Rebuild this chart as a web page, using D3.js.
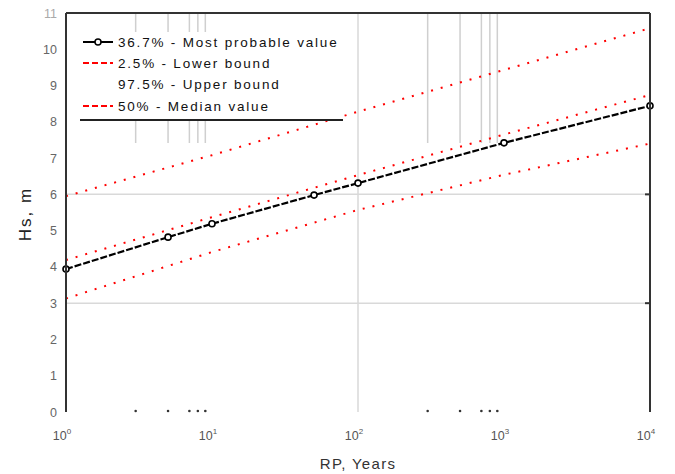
<!DOCTYPE html>
<html><head><meta charset="utf-8">
<script src="https://cdn.jsdelivr.net/npm/d3@7"></script>
<style>
body{margin:0;background:#fff;}
text{font-family:"Liberation Sans",Arial,sans-serif;}
</style></head>
<body>
<svg id="chart" width="675" height="474"></svg>
<script>
// ---- data ----
const rpMode = [1, 5, 10, 50, 100, 1000, 10000];
const hsMode = [3.94, 4.82, 5.19, 5.98, 6.31, 7.42, 8.44];
const rpBounds = [1, 10, 100, 1000, 10000];
const hsLower = [3.13, 4.41, 5.57, 6.54, 7.40];
const hsUpper = [5.95, 7.08, 8.28, 9.43, 10.58];
const hsMedian = [4.19, 5.37, 6.53, 7.65, 8.74];
const yTicks = [0,1,2,3,4,5,6,7,8,9,10,11];
const xTicks = [1, 10, 100, 1000, 10000];
const minorMults = [3, 5, 7, 8, 9];
const minorDecades = [1, 100];
const yGrid = [3, 6];
const xGrid = [100];
const legendLabels = ["36.7% - Most probable value", "2.5% - Lower bound", "97.5% - Upper bound", "50% - Median value"];

const svg = d3.select("#chart");
const x = d3.scaleLog().domain([1, 10000]).range([66, 650]);
const y = d3.scaleLinear().domain([0, 11]).range([412, 13]);

// grid
svg.selectAll(".yg").data(yGrid).enter().append("line")
  .attr("x1", x(1)).attr("x2", x(10000)).attr("y1", d => y(d)).attr("y2", d => y(d))
  .attr("stroke", "#d9d9d9").attr("stroke-width", 1.5);
svg.selectAll(".xg").data(xGrid).enter().append("line")
  .attr("x1", d => x(d)).attr("x2", d => x(d)).attr("y1", y(0)).attr("y2", y(11))
  .attr("stroke", "#d9d9d9").attr("stroke-width", 1.5);

// minor marks
const minors = [];
minorDecades.forEach(dec => minorMults.forEach(m => minors.push(dec * m)));
svg.selectAll(".mt").data(minors).enter().append("line")
  .attr("x1", d => x(d)).attr("x2", d => x(d)).attr("y1", y(11)).attr("y2", 143)
  .attr("stroke", "#cfcfcf").attr("stroke-width", 1.5);
svg.selectAll(".md").data(minors).enter().append("circle")
  .attr("cx", d => x(d)).attr("cy", 411).attr("r", 1.3).attr("fill", "#333");

// red bound lines
const line = d3.line().x(d => x(d[0])).y(d => y(d[1]));
[hsLower, hsUpper, hsMedian].forEach(arr => {
  svg.append("path").datum(rpBounds.map((r, i) => [r, arr[i]]))
    .attr("d", line).attr("fill", "none").attr("stroke", "#ff0000")
    .attr("stroke-width", 2).attr("stroke-dasharray", "2,8");
});

// most probable line
const modeData = rpMode.map((r, i) => [r, hsMode[i]]);
svg.append("path").datum(modeData).attr("d", line).attr("fill", "none")
  .attr("stroke", "#000").attr("stroke-width", 2.2).attr("stroke-dasharray", "7,2");
svg.selectAll(".mk").data(modeData).enter().append("circle")
  .attr("cx", d => x(d[0])).attr("cy", d => y(d[1])).attr("r", 3)
  .attr("fill", "#fff").attr("stroke", "#000").attr("stroke-width", 1.6);

// frame
svg.append("line").attr("x1", x(1)).attr("x2", x(1)).attr("y1", y(0)).attr("y2", y(11)).attr("stroke", "#333").attr("stroke-width", 2);
svg.append("line").attr("x1", x(10000)).attr("x2", x(10000)).attr("y1", y(0)).attr("y2", y(11)).attr("stroke", "#333").attr("stroke-width", 2);
svg.append("line").attr("x1", x(1)).attr("x2", x(10000)).attr("y1", y(11)).attr("y2", y(11)).attr("stroke", "#333").attr("stroke-width", 2);
svg.selectAll(".rt").data(yGrid).enter().append("line")
  .attr("x1", x(10000) - 5).attr("x2", x(10000)).attr("y1", d => y(d)).attr("y2", d => y(d))
  .attr("stroke", "#333").attr("stroke-width", 2);

// y tick labels
svg.selectAll(".yl").data(yTicks).enter().append("text")
  .attr("x", 57).attr("y", d => y(d) + 4.5).attr("text-anchor", "end")
  .attr("font-size", 12.5).attr("fill", d => d === 11 ? "#aaa" : "#666").text(d => d);

// x tick labels
const xl = svg.selectAll(".xl").data(xTicks).enter().append("text")
  .attr("x", d => x(d) - 4).attr("y", 440).attr("text-anchor", "middle")
  .attr("font-size", 12.5).attr("fill", "#555");
xl.append("tspan").text("10");
xl.append("tspan").attr("dy", -6).attr("font-size", 8).text(d => Math.round(Math.log10(d)));

// axis titles
svg.append("text").attr("x", 358).attr("y", 469).attr("text-anchor", "middle")
  .attr("font-size", 15).attr("letter-spacing", 1.3).attr("fill", "#333").text("RP, Years");
svg.append("text").attr("transform", "translate(31,214) rotate(-90)").attr("text-anchor", "middle")
  .attr("font-size", 17).attr("letter-spacing", 2).attr("fill", "#222").text("Hs, m");

// legend
const lg = svg.append("g");
lg.append("rect").attr("x", 68).attr("y", 32).attr("width", 276).attr("height", 88).attr("fill", "#fff");
lg.append("line").attr("x1", 80).attr("x2", 343).attr("y1", 120).attr("y2", 120).attr("stroke", "#222").attr("stroke-width", 2);
const ly = [42, 63, 84, 106];
const styles = [
  {c: "#000", dash: null, marker: true},
  {c: "#ff0000", dash: "6,3", marker: false},
  {c: "none", dash: null, marker: false},
  {c: "#ff0000", dash: "6,3", marker: false}
];
legendLabels.forEach((t, i) => {
  const s = styles[i];
  if (s.c !== "none") {
    lg.append("line").attr("x1", 83).attr("x2", 113).attr("y1", ly[i]).attr("y2", ly[i])
      .attr("stroke", s.c).attr("stroke-width", 2).attr("stroke-dasharray", s.dash);
  }
  if (s.marker) {
    lg.append("circle").attr("cx", 98).attr("cy", ly[i]).attr("r", 3)
      .attr("fill", "#fff").attr("stroke", "#000").attr("stroke-width", 1.5);
  }
  lg.append("text").attr("x", 118).attr("y", ly[i] + 5).attr("font-size", 13.5)
    .attr("letter-spacing", 1.8).attr("fill", "#111").text(t);
});
</script>
</body></html>
